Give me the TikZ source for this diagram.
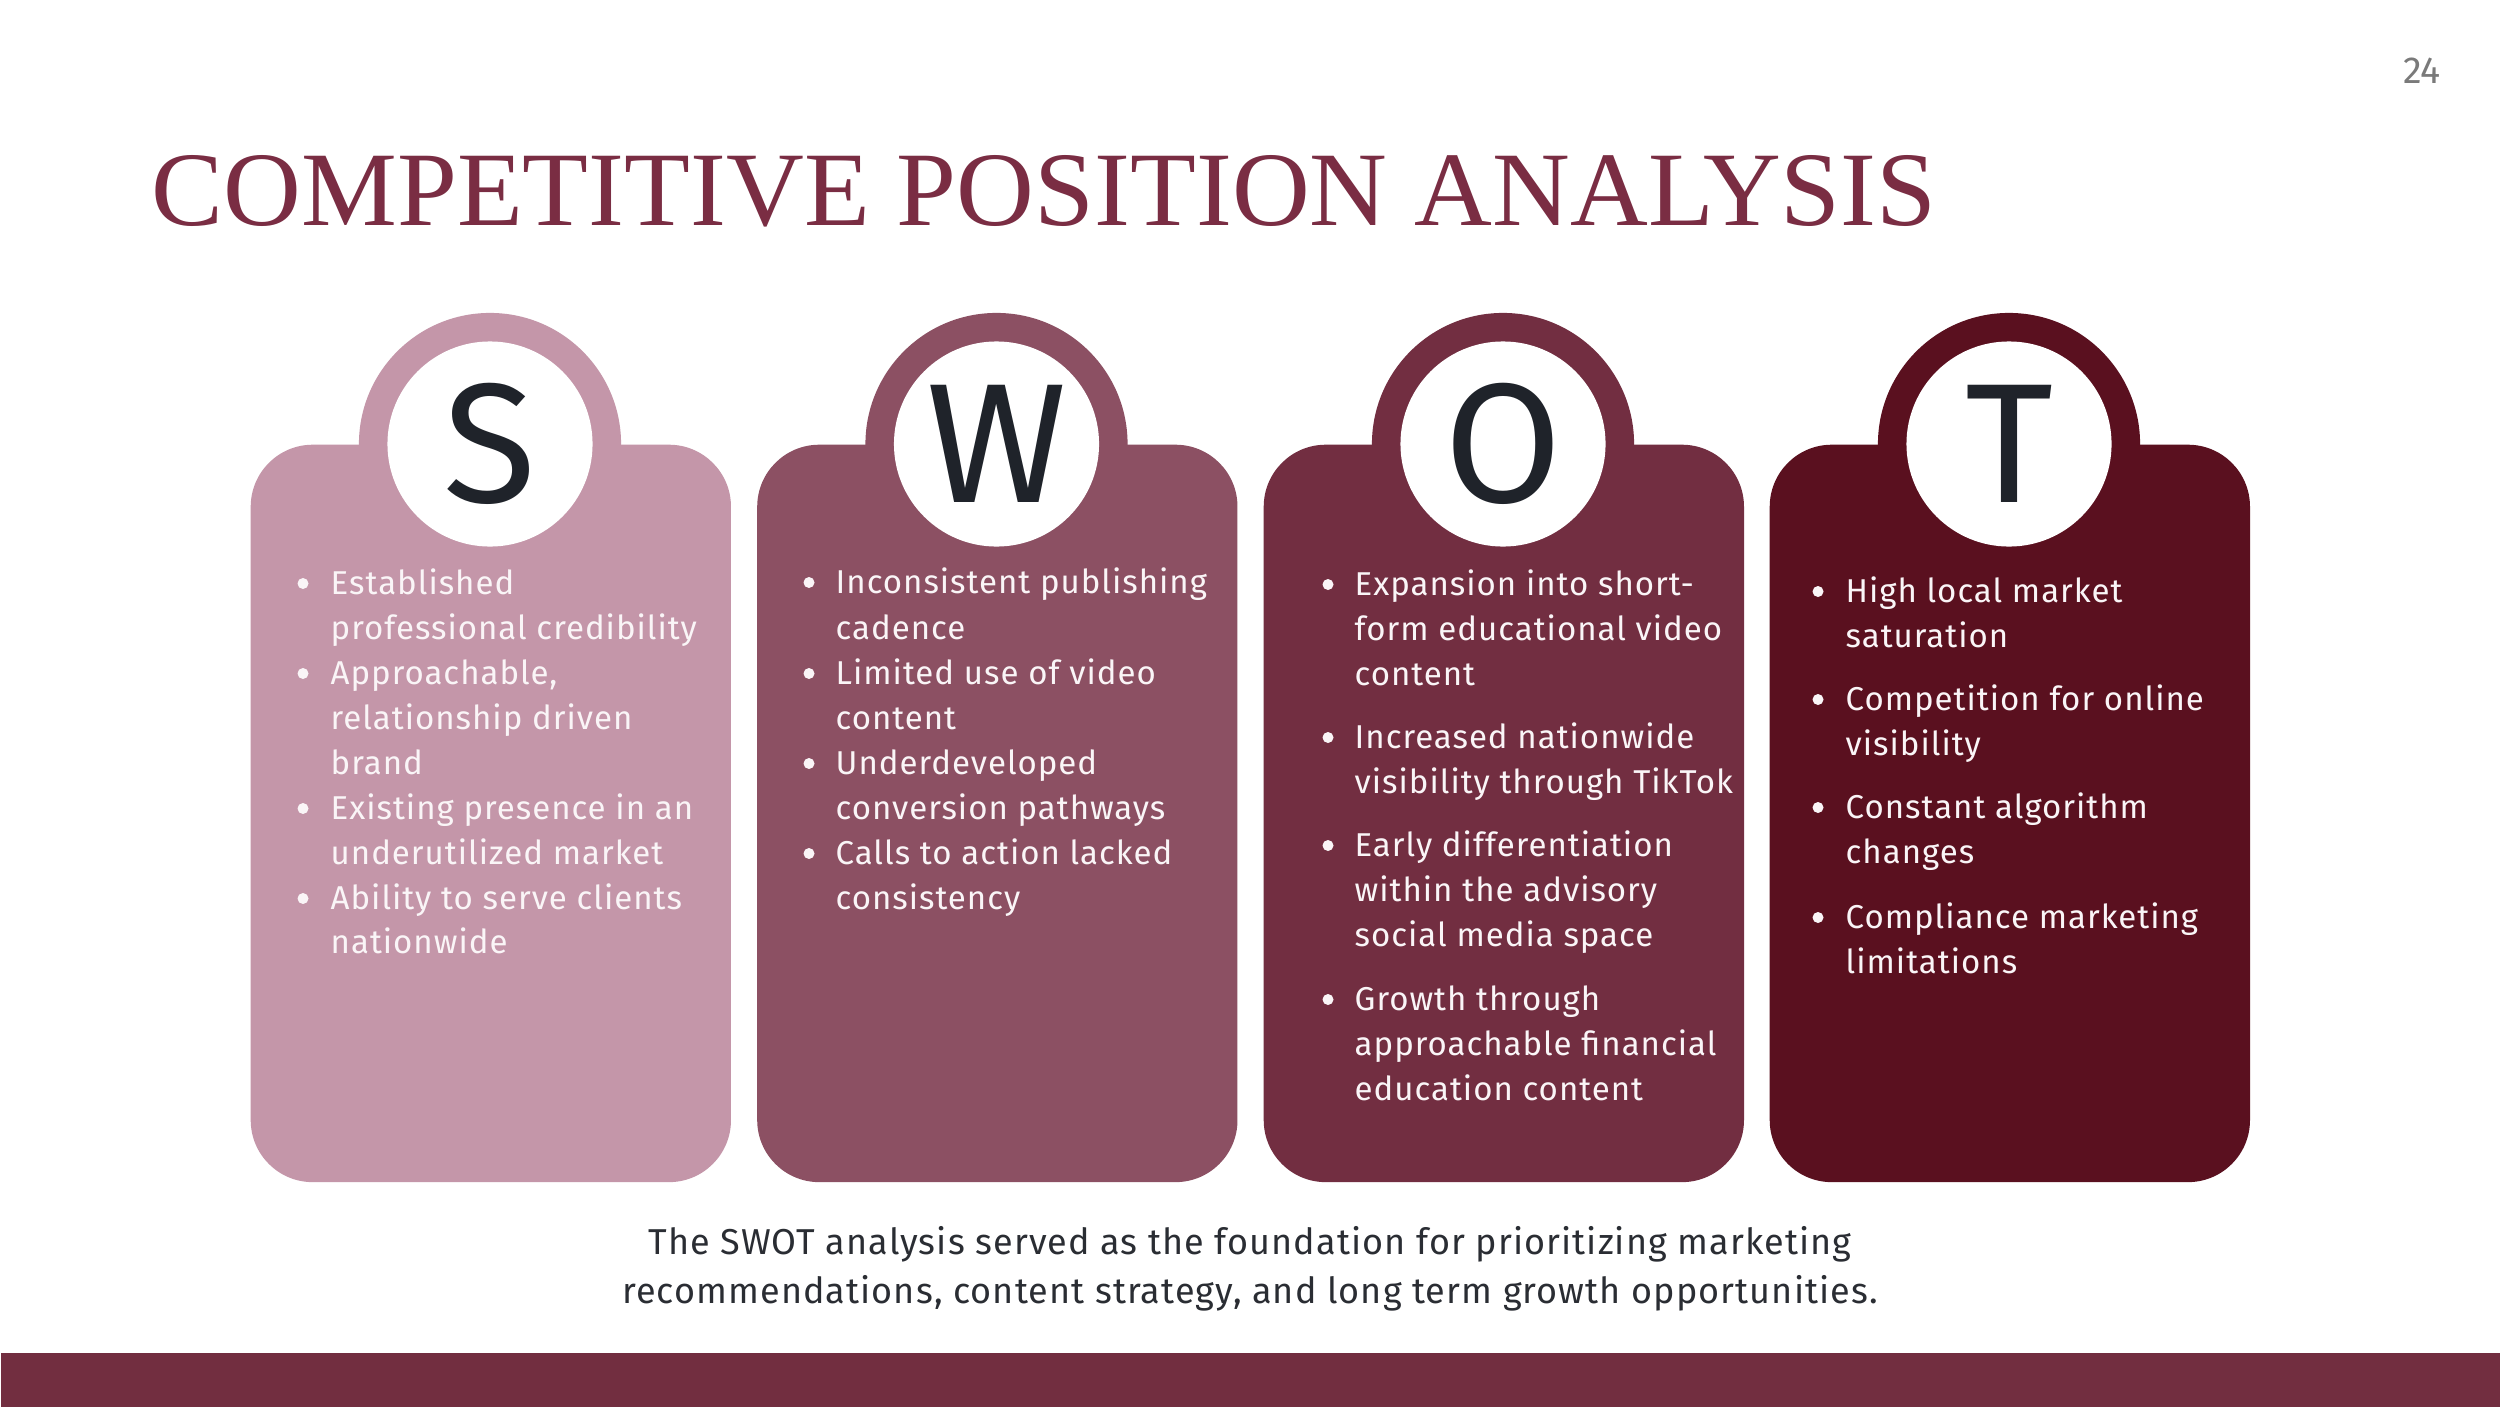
\documentclass[tikz,border=0pt]{standalone}
\usepackage{fontspec}
\usepackage{graphicx}
\setmainfont{Fira Sans}
\newfontfamily\bodyfont[LetterSpace=3]{Fira Sans}
\newfontfamily\letterfamily{Fira Sans}
\newfontfamily\titlefamily{Liberation Serif}
\definecolor{cS}{HTML}{C496A9}
\definecolor{cW}{HTML}{8C5063}
\definecolor{cO}{HTML}{722E41}
\definecolor{cT}{HTML}{5A101F}
\definecolor{cBar}{HTML}{722E40}
\definecolor{cTitle}{HTML}{7A2D43}
\definecolor{cLetter}{HTML}{1F232A}
\definecolor{cFoot}{HTML}{2A2D33}
\definecolor{cPage}{HTML}{7A7A7A}
\definecolor{cBody}{HTML}{FAF5F7}
\tikzset{
  cardbox/.style={rectangle, rounded corners=0.62cm, minimum width=4.8cm, minimum height=7.37cm, inner sep=0pt, anchor=north west},
  ringnode/.style={circle, minimum size=2.62cm, inner sep=0pt},
  discnode/.style={circle, fill=white, minimum size=2.05cm, inner sep=0pt, text=cLetter, font=\letterfamily\fontsize{48.4pt}{50pt}\selectfont},
  bodytext/.style={anchor=base west, inner sep=0pt, text=cBody, font=\bodyfont\fontsize{9.39pt}{12.8pt}\selectfont},
  bulletdot/.style={circle, fill=cBody, minimum size=0.11cm, inner sep=0pt},
  foottext/.style={anchor=base, inner sep=0pt, text=cFoot, font=\bodyfont\fontsize{10.24pt}{14pt}\selectfont}
}
\begin{document}
\begin{tikzpicture}[x=0.01cm, y=-0.01cm]
\useasboundingbox (0,0) rectangle (2500,1406);
\fill[white] (0,0) rectangle (2500,1406);

% page number
\node[anchor=base, inner sep=0pt, text=cPage, font=\fontsize{10.7pt}{12pt}\selectfont] (pnum) at (2422,83) {24};

% title
\node[anchor=base west, inner sep=0pt, text=cTitle] (title) at (151,225)
  {\resizebox{17.84cm}{0.70cm}{\titlefamily COMPETITIVE POSITION ANALYSIS}};

% cards
\node[cardbox, fill=cS] (cardS) at (250,444) {};
\node[cardbox, fill=cW] (cardW) at (756.5,444) {};
\node[cardbox, fill=cO] (cardO) at (1263,444) {};
\node[cardbox, fill=cT] (cardT) at (1769,444) {};

\node[ringnode, fill=cS] (ringS) at (490,444) {};
\node[ringnode, fill=cW] (ringW) at (996.5,444) {};
\node[ringnode, fill=cO] (ringO) at (1503,444) {};
\node[ringnode, fill=cT] (ringT) at (2009,444) {};

\node[discnode] (discS) at (490,444) {S};
\node[discnode] (discW) at (996.5,444) {W};
\node[discnode] (discO) at (1503,444) {O};
\node[discnode] (discT) at (2009,444) {T};

% S text
\foreach \yy/\txt [count=\i] in {594/Established, 639/professional credibility, 684/{Approachable,}, 729/relationship driven, 774/brand, 819/Existing presence in an, 864/underutilized market, 909/Ability to serve clients, 953/nationwide}
  \node[bodytext] (tS\i) at (330,\yy) {\txt};
\foreach \yy [count=\i] in {594,684,819,909}
  \node[bulletdot] (bS\i) at (303,\yy-10.5) {};

% W text
\foreach \yy/\txt [count=\i] in {593/Inconsistent publishing, 639/cadence, 684/Limited use of video, 729/content, 774/Underdeveloped, 819/conversion pathways, 864/Calls to action lacked, 909/consistency}
  \node[bodytext] (tW\i) at (835,\yy) {\txt};
\foreach \yy [count=\i] in {593,684,774,864}
  \node[bulletdot] (bW\i) at (809,\yy-10.5) {};

% O text
\foreach \yy/\txt [count=\i] in {595/Expansion into short-, 640/form educational video, 685/content, 748/Increased nationwide, 793/visibility through TikTok, 856/Early differentiation, 901/within the advisory, 946/social media space, 1010/Growth through, 1055/approachable financial, 1100/education content}
  \node[bodytext] (tO\i) at (1354,\yy) {\txt};
\foreach \yy [count=\i] in {595,748,856,1010}
  \node[bulletdot] (bO\i) at (1328,\yy-10.5) {};

% T text
\foreach \yy/\txt [count=\i] in {602/High local market, 647/saturation, 710/Competition for online, 755/visibility, 818/Constant algorithm, 863/changes, 928/Compliance marketing, 973/limitations}
  \node[bodytext] (tT\i) at (1845,\yy) {\txt};
\foreach \yy [count=\i] in {602,710,818,928}
  \node[bulletdot] (bT\i) at (1818,\yy-10.5) {};

% footer text
\node[foottext] (foot1) at (1250,1254) {The SWOT analysis served as the foundation for prioritizing marketing};
\node[foottext] (foot2) at (1250,1303) {recommendations, content strategy, and long term growth opportunities.};

% footer bar
\node[fill=cBar, anchor=north west, minimum width=25cm, minimum height=0.54cm, inner sep=0pt] (bar) at (0,1352) {};
\end{tikzpicture}
\end{document}
